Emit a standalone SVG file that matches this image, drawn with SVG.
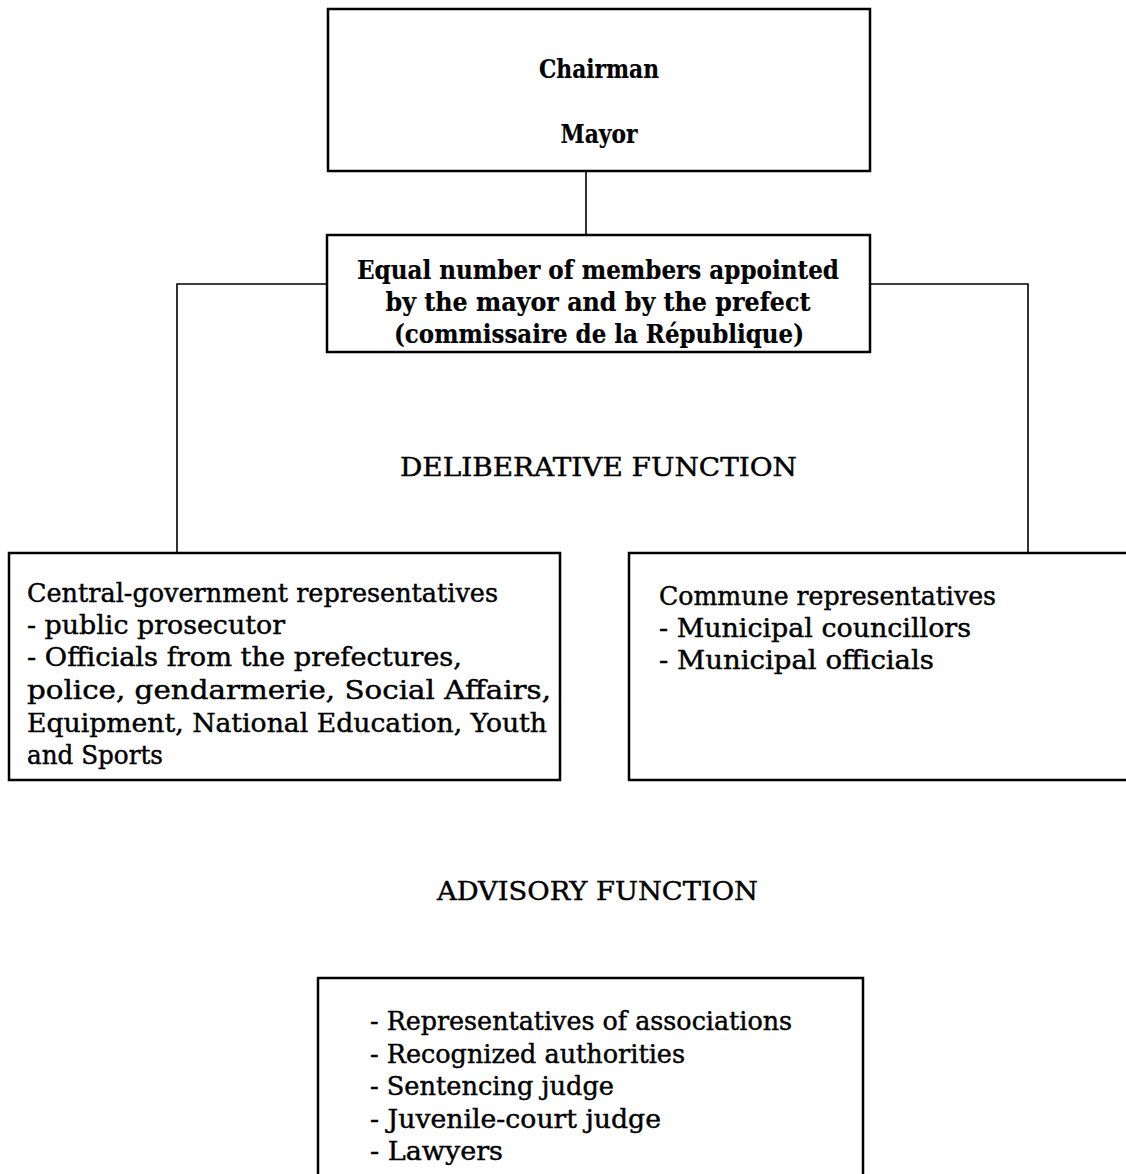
<svg xmlns="http://www.w3.org/2000/svg" width="1126" height="1174" viewBox="0 0 1126 1174">
<style>
.box{fill:none;stroke:#000;stroke-width:2.5}
.conn{fill:none;stroke:#000;stroke-width:1.6}
text{font-family:"DejaVu Serif","Liberation Serif",serif;fill:#000;font-size:26px;stroke:#000;stroke-width:0.45}
.b{font-weight:bold;stroke-width:0.2}
.m{text-anchor:middle}
.h{font-size:26px}
</style>
<rect width="1126" height="1174" fill="#fff"/>
<g id="connectors">
<line class="conn" x1="586" y1="171" x2="586" y2="235"/>
<polyline class="conn" points="327,284 177,284 177,553"/>
<polyline class="conn" points="870,284 1028,284 1028,553"/>
</g>
<g id="chairman">
<rect class="box" x="328" y="9" width="542" height="162"/>
<text class="b m" x="599" y="78" textLength="120" lengthAdjust="spacingAndGlyphs">Chairman</text>
<text class="b m" x="599" y="143" textLength="77" lengthAdjust="spacingAndGlyphs">Mayor</text>
</g>
<g id="members">
<rect class="box" x="327" y="235" width="543" height="117"/>
<text class="b m" x="598" y="279" textLength="482" lengthAdjust="spacingAndGlyphs">Equal number of members appointed</text>
<text class="b m" x="598" y="311" textLength="425" lengthAdjust="spacingAndGlyphs">by the mayor and by the prefect</text>
<text class="b m" x="599" y="343" textLength="410" lengthAdjust="spacingAndGlyphs">(commissaire de la République)</text>
</g>
<g id="deliberative">
<text class="h m" x="598.5" y="476" textLength="397" lengthAdjust="spacingAndGlyphs">DELIBERATIVE FUNCTION</text>
</g>
<g id="central">
<rect class="box" x="9" y="553" width="551" height="227"/>
<text x="27" y="602" textLength="471" lengthAdjust="spacingAndGlyphs">Central-government representatives</text>
<text x="27" y="634" textLength="258" lengthAdjust="spacingAndGlyphs">- public prosecutor</text>
<text x="27" y="666" textLength="435" lengthAdjust="spacingAndGlyphs">- Officials from the prefectures,</text>
<text x="27" y="699" textLength="524" lengthAdjust="spacingAndGlyphs">police, gendarmerie, Social Affairs,</text>
<text x="27" y="732" textLength="520" lengthAdjust="spacingAndGlyphs">Equipment, National Education, Youth</text>
<text x="27" y="764" textLength="136" lengthAdjust="spacingAndGlyphs">and Sports</text>
</g>
<g id="commune">
<rect class="box" x="629" y="553" width="520" height="227"/>
<text x="659" y="605" textLength="337" lengthAdjust="spacingAndGlyphs">Commune representatives</text>
<text x="659" y="637" textLength="312" lengthAdjust="spacingAndGlyphs">- Municipal councillors</text>
<text x="659" y="669" textLength="275" lengthAdjust="spacingAndGlyphs">- Municipal officials</text>
</g>
<g id="advisory">
<text class="h m" x="597.5" y="900" textLength="321" lengthAdjust="spacingAndGlyphs">ADVISORY FUNCTION</text>
</g>
<g id="advisors">
<rect class="box" x="318" y="978" width="545" height="220"/>
<text x="370" y="1030" textLength="422" lengthAdjust="spacingAndGlyphs">- Representatives of associations</text>
<text x="370" y="1063" textLength="315" lengthAdjust="spacingAndGlyphs">- Recognized authorities</text>
<text x="370" y="1095" textLength="244" lengthAdjust="spacingAndGlyphs">- Sentencing judge</text>
<text x="370" y="1128" textLength="291" lengthAdjust="spacingAndGlyphs">- Juvenile-court judge</text>
<text x="370" y="1160" textLength="133" lengthAdjust="spacingAndGlyphs">- Lawyers</text>
</g>
</svg>
